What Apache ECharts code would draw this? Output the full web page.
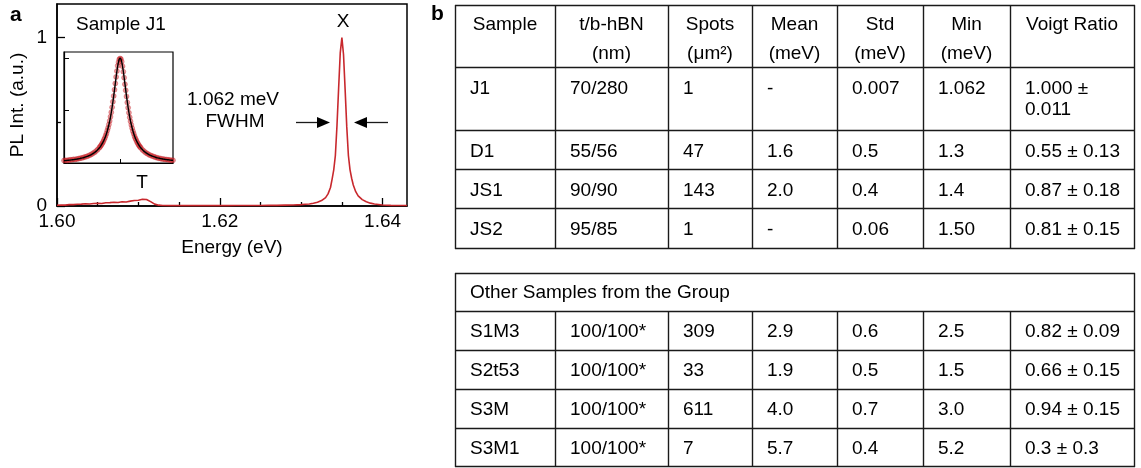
<!DOCTYPE html>
<html><head><meta charset="utf-8">
<script src="https://cdn.jsdelivr.net/npm/echarts@6/dist/echarts.min.js"></script>
<style>html,body{margin:0;padding:0;background:#fff}#c{width:1141px;height:468px}</style>
</head><body><div id="c"></div>
<script>
// ---------- Panel a data ----------
const energy = [1.6000,1.6005,1.6010,1.6015,1.6020,1.6025,1.6030,1.6035,1.6040,1.6045,1.6050,1.6055,1.6060,1.6065,1.6070,1.6075,1.6080,1.6085,1.6090,1.6095,1.6100,1.6105,1.6110,1.6115,1.6120,1.6125,1.6130,1.6140,1.6150,1.6160,1.6170,1.6180,1.6190,1.6200,1.6210,1.6220,1.6230,1.6240,1.6250,1.6260,1.6270,1.6280,1.6290,1.6300,1.6305,1.6310,1.6315,1.6320,1.6325,1.6330,1.6333,1.6336,1.6338,1.6340,1.6342,1.6344,1.6346,1.6348,1.6350,1.6352,1.6354,1.6356,1.6358,1.6360,1.6362,1.6364,1.6367,1.6370,1.6375,1.6380,1.6385,1.6390,1.6395,1.6400,1.6410,1.6420,1.6430];
const intensity = [0.004,0.006,0.005,0.008,0.008,0.010,0.011,0.013,0.012,0.015,0.016,0.015,0.019,0.020,0.022,0.021,0.025,0.024,0.029,0.033,0.034,0.040,0.039,0.026,0.011,0.005,0.003,0.002,0.002,0.002,0.002,0.002,0.002,0.002,0.002,0.003,0.003,0.003,0.003,0.004,0.004,0.005,0.006,0.008,0.010,0.012,0.016,0.022,0.032,0.050,0.072,0.110,0.160,0.215,0.300,0.480,0.700,0.910,1.000,0.900,0.690,0.470,0.300,0.215,0.165,0.125,0.085,0.060,0.038,0.025,0.017,0.012,0.009,0.006,0.004,0.003,0.003];

const xTickLabels = [1.60, 1.62, 1.64];
const xMinorTicks = [1.605, 1.61, 1.615, 1.625, 1.63, 1.635];
const yTickLabels = [0, 1];
const yMinorTicks = [0.5];

// inset (relative energy, meV): measured points
const insetX = [-3.5,-3.4,-3.3,-3.2,-3.1,-3.0,-2.9,-2.8,-2.7,-2.6,-2.5,-2.4,-2.3,-2.2,-2.1,-2.0,-1.9,-1.8,-1.7,-1.6,-1.5,-1.4,-1.3,
  -1.25,-1.2,-1.15,-1.1,-1.05,-1.0,-0.95,-0.9,-0.85,-0.8,-0.75,-0.7,-0.65,-0.6,-0.55,-0.5,-0.45,-0.4,-0.35,-0.3,-0.25,-0.2,-0.15,-0.1,-0.05,
  0.0,
  0.05,0.1,0.15,0.2,0.25,0.3,0.35,0.4,0.45,0.5,0.55,0.6,0.65,0.7,0.75,0.8,0.85,0.9,0.95,1.0,1.05,1.1,1.15,1.2,1.25,
  1.3,1.4,1.5,1.6,1.7,1.8,1.9,2.0,2.1,2.2,2.3,2.4,2.5,2.6,2.7,2.8,2.9,3.0,3.1,3.2,3.3];
const insetData = [0.024,0.026,0.024,0.029,0.030,0.031,0.035,0.034,0.039,0.041,0.045,0.048,0.052,0.058,0.061,0.068,0.075,0.082,0.092,0.101,0.114,0.128,0.146,
  0.155,0.166,0.178,0.192,0.205,0.224,0.240,0.262,0.283,0.310,0.336,0.368,0.402,0.442,0.484,0.532,0.585,0.640,0.700,0.760,0.822,0.878,0.928,0.962,0.990,
  0.998,
  0.992,0.968,0.924,0.872,0.815,0.752,0.694,0.636,0.578,0.528,0.480,0.436,0.398,0.364,0.333,0.304,0.280,0.256,0.236,0.220,0.202,0.188,0.175,0.163,0.152,
  0.144,0.125,0.112,0.098,0.090,0.079,0.073,0.066,0.061,0.055,0.051,0.046,0.044,0.039,0.038,0.034,0.033,0.030,0.029,0.026,0.026];
// inset fit curve
const fitX = [-3.5,-3.4,-3.3,-3.2,-3.1,-3.0,-2.9,-2.8,-2.7,-2.6,-2.5,-2.4,-2.3,-2.2,-2.1,-2.0,-1.9,-1.8,-1.7,-1.6,-1.5,-1.4,-1.3,-1.2,-1.1,-1.0,-0.9,-0.8,-0.7,-0.6,-0.5,-0.4,-0.3,-0.2,-0.1,0.0,0.1,0.2,0.3,0.4,0.5,0.6,0.7,0.8,0.9,1.0,1.1,1.2,1.3,1.4,1.5,1.6,1.7,1.8,1.9,2.0,2.1,2.2,2.3,2.4,2.5,2.6,2.7,2.8,2.9,3.0,3.1,3.2,3.3];
const fitY = [0.0225,0.0238,0.0252,0.0268,0.0285,0.0304,0.0324,0.0347,0.0372,0.0400,0.0432,0.0467,0.0506,0.0550,0.0601,0.0658,0.0725,0.0801,0.0889,0.0992,0.111,0.126,0.143,0.164,0.189,0.220,0.258,0.306,0.365,0.439,0.530,0.638,0.758,0.876,0.966,1.000,0.966,0.876,0.758,0.638,0.530,0.439,0.365,0.306,0.258,0.220,0.189,0.164,0.143,0.126,0.111,0.0992,0.0889,0.0801,0.0725,0.0658,0.0601,0.0550,0.0506,0.0467,0.0432,0.0400,0.0372,0.0347,0.0324,0.0304,0.0285,0.0268,0.0252];
const insetXTicks = [0];
const insetYTicks = [0.5, 1];

// ---------- Panel b data ----------
const headerLine1 = ['Sample', 't/b-hBN', 'Spots', 'Mean', 'Std', 'Min', 'Voigt Ratio'];
const headerLine2 = ['', '(nm)', '(\u03bcm\u00b2)', '(meV)', '(meV)', '(meV)', ''];

const mainSamples   = ['J1', 'D1', 'JS1', 'JS2'];
const mainThickness = ['70/280', '55/56', '90/90', '95/85'];
const mainSpots     = ['1', '47', '143', '1'];
const mainMean      = ['-', '1.6', '2.0', '-'];
const mainStd       = ['0.007', '0.5', '0.4', '0.06'];
const mainMin       = ['1.062', '1.3', '1.4', '1.50'];
const mainVoigt     = ['1.000 \u00b1\n0.011', '0.55 \u00b1 0.13', '0.87 \u00b1 0.18', '0.81 \u00b1 0.15'];

const otherTitle     = 'Other Samples from the Group';
const otherSamples   = ['S1M3', 'S2t53', 'S3M', 'S3M1'];
const otherThickness = ['100/100*', '100/100*', '100/100*', '100/100*'];
const otherSpots     = ['309', '33', '611', '7'];
const otherMean      = ['2.9', '1.9', '4.0', '5.7'];
const otherStd       = ['0.6', '0.5', '0.7', '0.4'];
const otherMin       = ['2.5', '1.5', '3.0', '5.2'];
const otherVoigt     = ['0.82 \u00b1 0.09', '0.66 \u00b1 0.15', '0.94 \u00b1 0.15', '0.3 \u00b1 0.3'];

// ---------- layout ----------
const FONT = '"Liberation Sans", Arial, Helvetica, sans-serif';
const RED = '#c8282d';
const FS = 19;
const colX = [455, 555, 668, 752, 837, 923, 1010, 1134];
const topRows = [5, 67, 130, 169, 208, 248];
const botRows = [273, 311, 350, 389, 428, 466];
const cellPad = 15;
const lineGap = 21;

function txt(x, y, s, align, size, weight) {
  return {type: 'text', x: x, y: y, silent: true, z: 20,
    style: {text: s, fill: '#000', fontSize: size || FS, fontFamily: FONT,
      fontWeight: weight || 'normal', textAlign: align || 'left', textVerticalAlign: 'middle'}};
}
function ln(x1, y1, x2, y2, w) {
  return {type: 'line', silent: true, z: 20, shape: {x1: x1, y1: y1, x2: x2, y2: y2},
    style: {stroke: '#1a1a1a', lineWidth: w || 1.4}};
}

const G = [];
// panel letters
G.push(txt(10, 15, 'a', 'left', 21, 'bold'));
G.push(txt(431, 14, 'b', 'left', 21, 'bold'));
// panel a annotations
G.push(txt(76, 25, 'Sample J1', 'left'));
G.push(txt(343, 22, 'X', 'center'));
G.push(txt(142, 183, 'T', 'center'));
G.push(txt(233, 100, '1.062 meV', 'center'));
G.push(txt(235, 122, 'FWHM', 'center'));
// arrows
G.push(ln(296, 122.5, 318, 122.5, 1.3));
G.push({type: 'polygon', silent: true, z: 20, shape: {points: [[330, 122.5], [317, 117], [317, 128]]}, style: {fill: '#000'}});
G.push(ln(366, 122.5, 388, 122.5, 1.3));
G.push({type: 'polygon', silent: true, z: 20, shape: {points: [[354, 122.5], [367, 117], [367, 128]]}, style: {fill: '#000'}});

// table 1
const mainCols = [mainSamples, mainThickness, mainSpots, mainMean, mainStd, mainMin, mainVoigt];
topRows.forEach(y => G.push(ln(colX[0], y + 0.5, colX[7] + 1, y + 0.5)));
colX.forEach(x => G.push(ln(x + 0.5, topRows[0], x + 0.5, topRows[topRows.length - 1] + 1)));
headerLine1.forEach((h, c) => {
  const cx = (colX[c] + colX[c + 1]) / 2;
  G.push(txt(cx, topRows[0] + 20, h, 'center'));
  if (headerLine2[c]) G.push(txt(cx, topRows[0] + 49, headerLine2[c], 'center'));
});
mainCols.forEach((col, c) => {
  col.forEach((v, r) => {
    v.split('\n').forEach((part, k) => {
      G.push(txt(colX[c] + cellPad, topRows[r + 1] + 22 + k * lineGap, part, 'left'));
    });
  });
});

// table 2
const otherCols = [otherSamples, otherThickness, otherSpots, otherMean, otherStd, otherMin, otherVoigt];
botRows.forEach(y => G.push(ln(colX[0], y + 0.5, colX[7] + 1, y + 0.5)));
G.push(ln(colX[0] + 0.5, botRows[0], colX[0] + 0.5, botRows[5] + 1));
G.push(ln(colX[7] + 0.5, botRows[0], colX[7] + 0.5, botRows[5] + 1));
colX.slice(1, 7).forEach(x => G.push(ln(x + 0.5, botRows[1], x + 0.5, botRows[5] + 1)));
G.push(txt(colX[0] + cellPad, botRows[0] + 20, otherTitle, 'left'));
otherCols.forEach((col, c) => {
  col.forEach((v, r) => {
    G.push(txt(colX[c] + cellPad, botRows[r + 1] + 21, v, 'left'));
  });
});

const axisTxt = {fontSize: FS, color: '#000', fontFamily: FONT};

const option = {
  animation: false,
  backgroundColor: '#fff',
  grid: [
    {left: 57, top: 4, width: 350, height: 202, show: true, borderColor: '#000', borderWidth: 1.5, backgroundColor: 'transparent'},
    {left: 64, top: 52, width: 109, height: 111, show: true, borderColor: '#000', borderWidth: 1.2, backgroundColor: '#fff'}
  ],
  xAxis: [
    {gridIndex: 0, type: 'value', min: 1.60, max: 1.643, position: 'bottom',
      axisLine: {show: true, onZero: false, lineStyle: {color: '#000', width: 1.5}},
      axisTick: {show: true, inside: true, length: 8, customValues: xTickLabels, lineStyle: {color: '#000', width: 1.3}},
      axisLabel: Object.assign({show: true, customValues: xTickLabels, formatter: v => v.toFixed(2), margin: 6}, axisTxt),
      splitLine: {show: false},
      name: 'Energy (eV)', nameLocation: 'middle', nameGap: 32, nameTextStyle: axisTxt},
    {gridIndex: 0, type: 'value', min: 1.60, max: 1.643, position: 'bottom',
      axisLine: {show: false},
      axisTick: {show: true, inside: true, length: 4, customValues: xMinorTicks, lineStyle: {color: '#000', width: 1.3}},
      axisLabel: {show: false}, splitLine: {show: false}},
    {gridIndex: 1, type: 'value', min: -3.5, max: 3.3, position: 'bottom',
      axisLine: {show: true, onZero: false, lineStyle: {color: '#000', width: 1.2}},
      axisTick: {show: true, inside: true, length: 4, customValues: insetXTicks, lineStyle: {color: '#000'}},
      axisLabel: {show: false}, splitLine: {show: false}}
  ],
  yAxis: [
    {gridIndex: 0, type: 'value', min: 0, max: 1.2, position: 'left',
      axisLine: {show: true, onZero: false, lineStyle: {color: '#000', width: 1.5}},
      axisTick: {show: true, inside: true, length: 8, customValues: yTickLabels, lineStyle: {color: '#000', width: 1.3}},
      axisLabel: Object.assign({show: true, customValues: yTickLabels, margin: 10}, axisTxt),
      splitLine: {show: false},
      name: 'PL Int. (a.u.)', nameLocation: 'middle', nameGap: 30, nameTextStyle: axisTxt},
    {gridIndex: 0, type: 'value', min: 0, max: 1.2, position: 'left',
      axisLine: {show: false},
      axisTick: {show: true, inside: true, length: 4, customValues: yMinorTicks, lineStyle: {color: '#000', width: 1.3}},
      axisLabel: {show: false}, splitLine: {show: false}},
    {gridIndex: 1, type: 'value', min: 0, max: 1.06, position: 'left',
      axisLine: {show: true, onZero: false, lineStyle: {color: '#000', width: 1.2}},
      axisTick: {show: true, inside: true, length: 5, customValues: insetYTicks, lineStyle: {color: '#000'}},
      axisLabel: {show: false}, splitLine: {show: false}}
  ],
  series: [
    {type: 'line', xAxisIndex: 0, yAxisIndex: 0, data: energy.map((e, i) => [e, intensity[i]]),
      showSymbol: false, lineStyle: {color: RED, width: 1.6}, itemStyle: {color: RED}},
    {type: 'scatter', xAxisIndex: 2, yAxisIndex: 2, data: insetX.map((x, i) => [x, insetData[i]]),
      symbolSize: 5, itemStyle: {color: 'rgba(212,40,45,0.6)', borderColor: 'rgba(185,25,30,0.75)', borderWidth: 0.5}, z: 3},
    {type: 'line', xAxisIndex: 2, yAxisIndex: 2, data: fitX.map((x, i) => [x, fitY[i]]),
      showSymbol: false, smooth: 0.2, lineStyle: {color: '#000', width: 1.4}, itemStyle: {color: '#000'}, z: 4}
  ],
  graphic: {elements: G}
};

const chart = echarts.init(document.getElementById('c'));
chart.setOption(option);
</script>
</body></html>
